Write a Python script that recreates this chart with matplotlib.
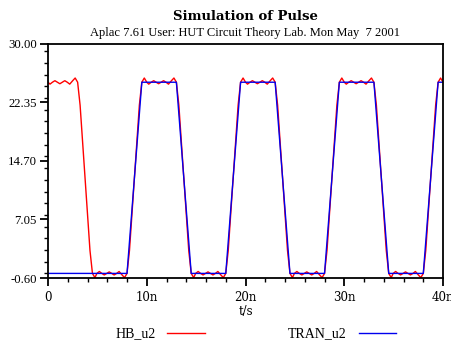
import numpy as np
import matplotlib.pyplot as plt
from matplotlib.lines import Line2D
from matplotlib.ticker import MultipleLocator

plt.rcParams['font.family'] = ['Liberation Serif', 'DejaVu Serif']

# TRAN_u2: transient result, trapezoid pulse (time in ns, volts)
tran_t = [0, 8, 9.5, 13, 14.5, 18, 19.5, 23, 24.5, 28, 29.5, 33, 34.5, 38, 39.5, 40]
tran_v = [0, 0, 25, 25, 0, 0, 25, 25, 0, 0, 25, 25, 0, 0, 25, 25]

# HB_u2: harmonic balance result, one period (0..10 ns)
hb_period_t = [0.0, 0.2, 0.45, 0.7, 0.95, 1.2, 1.45, 1.7, 1.95, 2.2, 2.5, 2.75,
               3.0, 3.25, 3.5, 3.75, 4.0, 4.25, 4.5, 4.75, 4.95, 5.2, 5.45, 5.7,
               5.95, 6.2, 6.45, 6.7, 6.95, 7.2, 7.5, 7.75, 8.0, 8.25, 8.5, 8.75,
               9.0, 9.25, 9.5, 9.75]
hb_period_v = [25.0, 24.75, 25.0, 25.2, 25.0, 24.8, 25.0, 25.2, 25.0, 24.75, 25.2, 25.55,
               25.0, 22.0, 17.2, 12.5, 7.8, 3.0, 0.0, -0.55, 0.0, 0.25, 0.0, -0.2,
               0.0, 0.2, 0.0, -0.2, 0.0, 0.25, -0.2, -0.55, 0.0, 3.0, 7.8, 12.5,
               17.2, 22.0, 25.0, 25.55]
n_periods = 4
period = 10.0

hb_t = np.concatenate([np.array(hb_period_t) + k * period for k in range(n_periods)] + [[40.0]])
hb_v = np.concatenate([hb_period_v] * n_periods + [[25.0]])

xticks = [0, 10, 20, 30, 40]
xticklabels = ['0', '10n', '20n', '30n', '40n']
yticks = [-0.60, 7.05, 14.70, 22.35, 30.00]
yticklabels = ['%.2f' % v for v in yticks]

fig = plt.figure(figsize=(4.52, 3.45), dpi=100)
ax = fig.add_axes([0.1062, 0.1942, 0.8740, 0.6783])

ax.plot(hb_t, hb_v, color='#ff0000', lw=1.0)
ax.plot(tran_t, tran_v, color='#0000ee', lw=1.0)

ax.set_xlim(0, 40)
ax.set_ylim(-0.6, 30.0)
ax.set_xticks(xticks)
ax.set_xticklabels(xticklabels, family='DejaVu Serif', fontsize=8.5)
ax.set_yticks(yticks)
ax.set_yticklabels(yticklabels, fontsize=9.2)
ax.xaxis.set_minor_locator(MultipleLocator(2))
ax.yaxis.set_minor_locator(MultipleLocator(7.65 / 5))
ax.tick_params(which='major', direction='out', length=6, width=1.3, pad=2)
ax.tick_params(which='minor', direction='out', length=3, width=1.0)
ax.tick_params(axis='x', which='major', pad=3)
for s in ax.spines.values():
    s.set_linewidth(1.3)

ax.set_xlabel('t/s', family='DejaVu Serif', fontsize=8.5, labelpad=1)

fig.text(0.544, 0.943, 'Simulation of Pulse', ha='center', family='DejaVu Serif',
         fontsize=9.5, fontweight='bold')
fig.text(0.543, 0.897, 'Aplac 7.61 User: HUT Circuit Theory Lab. Mon May  7 2001',
         ha='center', fontsize=9.0)

handles = [Line2D([], [], color='#ff0000', lw=1.0), Line2D([], [], color='#0000ee', lw=1.0)]
fig.legend(handles, ['HB_u2', 'TRAN_u2'], loc='center', bbox_to_anchor=(0.566, 0.032),
           ncol=2, markerfirst=False, frameon=False, fontsize=10,
           handlelength=2.7, handletextpad=0.86, columnspacing=6.0,
           borderpad=0, borderaxespad=0)

fig.savefig('out.png', dpi=100)
